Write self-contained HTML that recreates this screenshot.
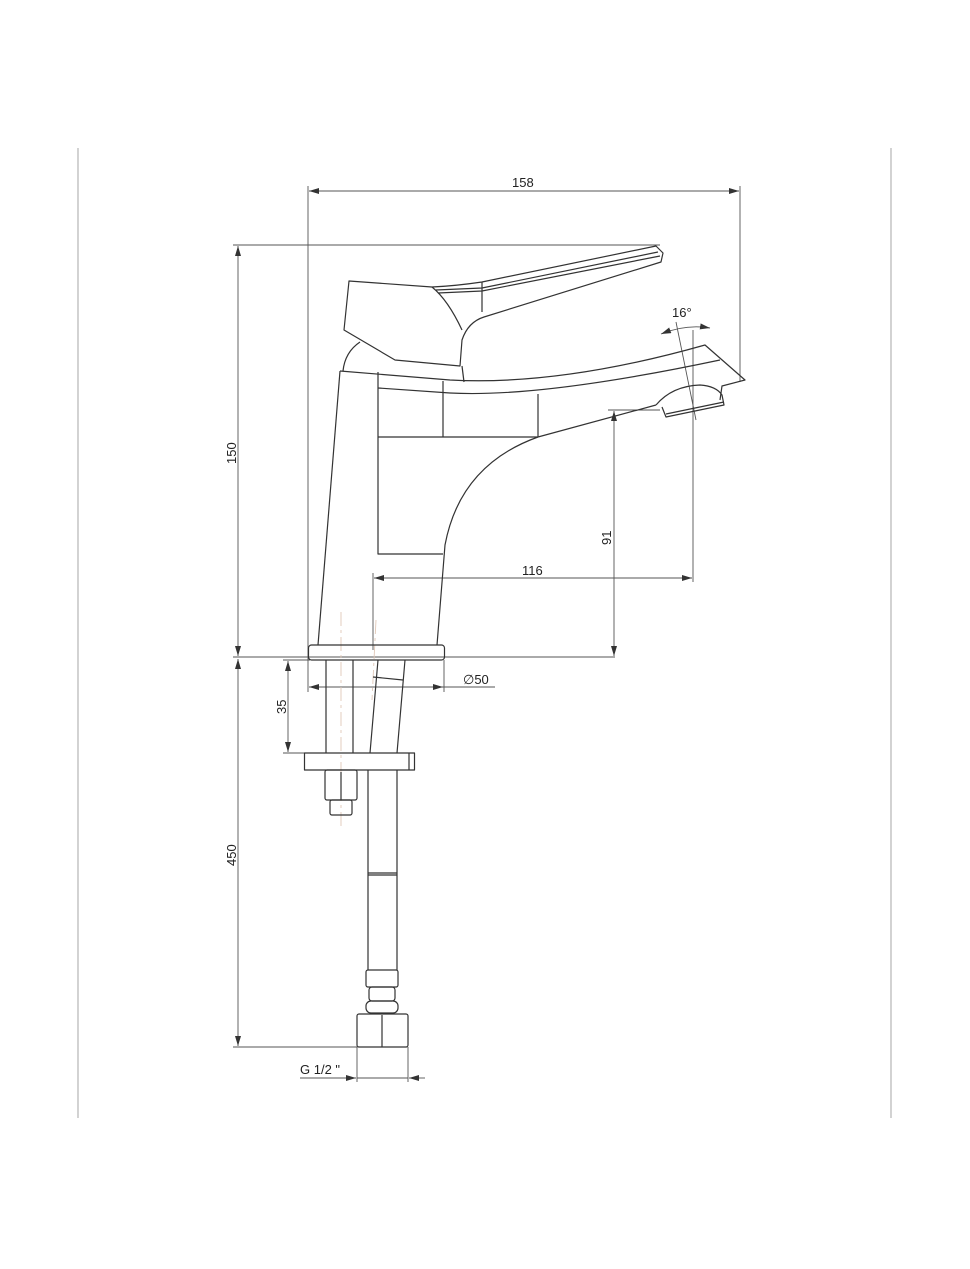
<!DOCTYPE html>
<html><head><meta charset="utf-8"><style>
html,body{margin:0;padding:0;background:#fff;}
svg{display:block;}
text{font-family:"Liberation Sans",sans-serif;font-size:13px;fill:#222;}
</style></head><body>
<svg width="970" height="1269" viewBox="0 0 970 1269" xmlns="http://www.w3.org/2000/svg">
<defs>
<marker id="a" viewBox="0 0 10 6" refX="10" refY="3" markerWidth="10" markerHeight="6" orient="auto-start-reverse" markerUnits="userSpaceOnUse"><path d="M0,0 L10,3 L0,6 z" fill="#333"/></marker>
</defs>
<g stroke="#bbb" stroke-width="1.3">
<line x1="78" y1="148" x2="78" y2="1118"/>
<line x1="891" y1="148" x2="891" y2="1118"/>
</g>
<g stroke="#555" stroke-width="0.9" fill="none">
<line x1="308" y1="186" x2="308" y2="660"/>
<line x1="740" y1="186" x2="740" y2="382"/>
<line x1="309" y1="191" x2="739" y2="191" marker-start="url(#a)" marker-end="url(#a)"/>
<line x1="233" y1="245" x2="660" y2="245"/>
<line x1="233" y1="657" x2="615" y2="657"/>
<line x1="238" y1="246" x2="238" y2="656" marker-start="url(#a)" marker-end="url(#a)"/>
<line x1="238" y1="659" x2="238" y2="1046" marker-start="url(#a)" marker-end="url(#a)"/>
<line x1="233" y1="1047" x2="357" y2="1047"/>
<line x1="283" y1="660" x2="310" y2="660"/>
<line x1="283" y1="753" x2="305" y2="753"/>
<line x1="288" y1="661" x2="288" y2="752" marker-start="url(#a)" marker-end="url(#a)"/>
<line x1="308" y1="660" x2="308" y2="692"/>
<line x1="444" y1="660" x2="444" y2="692"/>
<line x1="309" y1="687" x2="443" y2="687" marker-start="url(#a)" marker-end="url(#a)"/>
<line x1="443" y1="687" x2="495" y2="687"/>
<line x1="373" y1="573" x2="373" y2="650"/>
<line x1="374" y1="578" x2="692" y2="578" marker-start="url(#a)" marker-end="url(#a)"/>
<line x1="693" y1="330" x2="693" y2="582"/>
<line x1="608" y1="410" x2="660" y2="410"/>
<line x1="614" y1="411" x2="614" y2="656" marker-start="url(#a)" marker-end="url(#a)"/>
<line x1="357" y1="1047" x2="357" y2="1082"/>
<line x1="408" y1="1047" x2="408" y2="1082"/>
<line x1="300" y1="1078" x2="356" y2="1078"/>
<line x1="340" y1="1078" x2="356" y2="1078" marker-end="url(#a)"/>
<line x1="425" y1="1078" x2="409" y2="1078" marker-end="url(#a)"/>
<line x1="357" y1="1078" x2="408" y2="1078"/>
<path d="M661,334 Q686,324 710,328" marker-start="url(#a)" marker-end="url(#a)"/>
<line x1="676" y1="322" x2="696" y2="420"/>
</g>
<g stroke="#e0c8b8" stroke-width="0.9" stroke-dasharray="14,4,3,4" fill="none">
<line x1="341" y1="612" x2="341" y2="830"/>
<line x1="376" y1="620" x2="372" y2="700"/>
</g>
<g stroke="#333" stroke-width="1.2" fill="none" stroke-linejoin="round">
<path d="M349,281 L432,287 Q455,286 482,282 L656,246 L663,253 L661,262 L484,317 Q468,322 462,340 L460,366 L395,360 L344,330 Z"/>
<path d="M432,287 Q448,300 462,330"/>
<path d="M482,282 L482,312"/>
<path d="M436,290 L482,288 L658,252"/>
<path d="M438,293 L482,291 L660,256"/>
<path d="M343,371 Q345,352 360,342"/>
<path d="M462,366 L464,382"/>
<path d="M340,371 L318,645"/>
<path d="M340,371 L450,380 Q560,386 705,345 L745,380 L722,386 L720,400"/>
<path d="M378,388 L450,393 Q540,398 720,360"/>
<path d="M378,372 L378,554 L443,554"/>
<line x1="378" y1="437" x2="538" y2="437"/>
<line x1="443" y1="381" x2="443" y2="437"/>
<line x1="538" y1="394" x2="538" y2="437"/>
<path d="M538,437 L656,405"/>
<path d="M437,645 L445,545 Q460,465 538,437"/>
<path d="M656,405 Q672,386 700,385 Q716,386 722,395 L724,405 L666,417 L662,407"/>
<path d="M666,414 L724,402"/>
<rect x="308.5" y="645" width="136" height="15" rx="3"/>
<line x1="326" y1="660" x2="326" y2="753"/>
<line x1="353" y1="660" x2="353" y2="753"/>
<path d="M378,660 L370,753"/>
<path d="M405,660 L397,753"/>
<path d="M373,677 L403,680"/>
<rect x="304.5" y="753" width="110" height="17"/>
<line x1="409" y1="753" x2="409" y2="770"/>
<rect x="325" y="770" width="32" height="30" rx="2"/>
<line x1="341" y1="772" x2="341" y2="800"/>
<rect x="330" y="800" width="22" height="15" rx="2"/>
<line x1="368" y1="770" x2="368" y2="970"/>
<line x1="397" y1="770" x2="397" y2="970"/>
<line x1="368" y1="873" x2="397" y2="873"/>
<line x1="368" y1="875" x2="397" y2="875"/>
<rect x="366" y="970" width="32" height="17" rx="2"/>
<rect x="369" y="987" width="26" height="14" rx="3"/>
<rect x="366" y="1001" width="32" height="12" rx="5"/>
<rect x="357" y="1014" width="51" height="33" rx="2"/>
<line x1="382" y1="1015" x2="382" y2="1047"/>
</g>
<text x="512" y="187">158</text>
<text x="672" y="317">16°</text>
<text transform="translate(236,464) rotate(-90)">150</text>
<text transform="translate(286,714) rotate(-90)">35</text>
<text transform="translate(236,866) rotate(-90)">450</text>
<text transform="translate(611,545) rotate(-90)">91</text>
<text x="522" y="575">116</text>
<text x="463" y="684" font-size="14">∅50</text>
<text x="300" y="1074">G 1/2 "</text>
</svg>
</body></html>
